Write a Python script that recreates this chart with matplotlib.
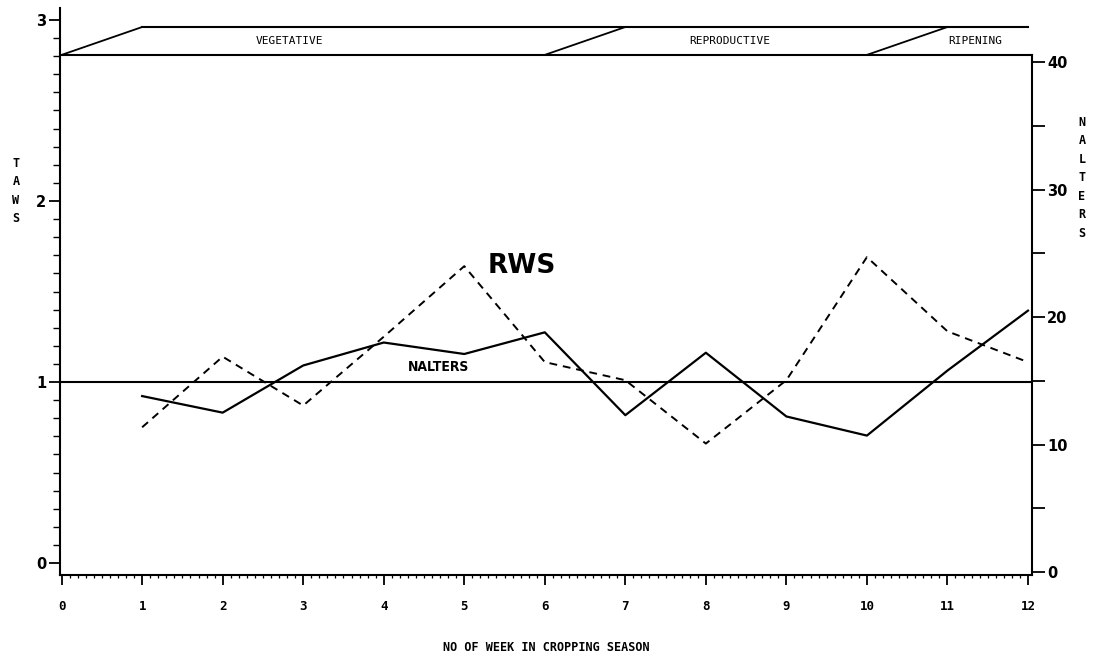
import matplotlib

matplotlib.use("Agg")

import matplotlib.pyplot as plt
from matplotlib.ticker import MultipleLocator


WEEKS = [1, 2, 3, 4, 5, 6, 7, 8, 9, 10, 11, 12]
RWS = [0.75, 1.14, 0.87, 1.25, 1.64, 1.11, 1.01, 0.66, 1.01, 1.69, 1.28, 1.11]
NALTERS = [13.8, 12.5, 16.2, 18.0, 17.1, 18.8, 12.3, 17.2, 12.2, 10.7, 15.8, 20.5]

X_TICKS = list(range(0, 13))
LEFT_TICKS = [0, 1, 2, 3]
RIGHT_TICKS = [0, 10, 20, 30, 40]

# growth stages: (start week, end week of the slanted edge, label, label x)
STAGES = [
    (0, 1, "VEGETATIVE", 2.83),
    (6, 7, "REPRODUCTIVE", 8.3),
    (10, 11, "RIPENING", 11.34),
]
BAND_LOW = 2.807
BAND_HIGH = 2.961

MONO = "DejaVu Sans Mono"

fig = plt.figure(figsize=(10.96, 6.63), dpi=100)
ax = fig.add_axes([60 / 1096, 88 / 663, 972 / 1096, 567 / 663])
ax2 = ax.twinx()

ax.set_xlim(-0.02, 12.05)
ax.set_ylim(-0.066, 3.066)
ax2.set_ylim(-0.235, 44.24)

# reference line at 1 and the two series
ax.axhline(1.0, color="black", lw=1.5, xmin=0, xmax=1)
ax.plot(WEEKS, RWS, color="black", lw=1.4, linestyle=(0, (4, 3)))
ax2.plot(WEEKS, NALTERS, color="black", lw=1.6)

# stage band at the top
ax.plot([0, 12.05], [BAND_LOW, BAND_LOW], color="black", lw=1.5, clip_on=False)
ax.plot([1, 12.0], [BAND_HIGH, BAND_HIGH], color="black", lw=1.5, clip_on=False)
for start, end, label, lx in STAGES:
    ax.plot([start, end], [BAND_LOW, BAND_HIGH], color="black", lw=1.3)
    ax.text(lx, (BAND_LOW + BAND_HIGH) / 2, label, family=MONO, fontsize=8,
            ha="center", va="center")

ax.text(5.71, 1.64, "RWS", fontsize=19, fontweight="bold", ha="center", va="center")
ax.text(4.68, 1.085, "NALTERS", fontsize=10, fontweight="bold", ha="center",
        va="center", fontstretch="condensed")

# axes styling
for side in ["top", "right"]:
    ax.spines[side].set_visible(False)
for side in ["top", "left", "bottom"]:
    ax2.spines[side].set_visible(False)
ax.spines["left"].set_linewidth(1.5)
ax.spines["bottom"].set_linewidth(1.5)
ax2.spines["right"].set_linewidth(1.5)
ax2.spines["right"].set_bounds(-0.235, 40.55)

ax.set_xticks(X_TICKS)
ax.xaxis.set_minor_locator(MultipleLocator(0.1))
ax.set_yticks(LEFT_TICKS)
ax.yaxis.set_minor_locator(MultipleLocator(0.1))
ax2.set_yticks(RIGHT_TICKS)
ax2.yaxis.set_minor_locator(MultipleLocator(5))

ax.tick_params(axis="x", which="major", direction="out", length=7, width=1.3,
               pad=11, labelsize=9)
ax.tick_params(axis="x", which="minor", direction="out", length=2.5, width=0.9)
ax.tick_params(axis="y", which="major", direction="out", length=8, width=1.3,
               pad=2, labelsize=10.5)
ax.tick_params(axis="y", which="minor", direction="out", length=5, width=1)
ax2.tick_params(axis="y", which="major", direction="out", length=9, width=1.3,
                pad=2, labelsize=10.5)
ax2.tick_params(axis="y", which="minor", direction="out", length=9, width=1.3)

for lab in ax.get_xticklabels():
    lab.set_family(MONO)
    lab.set_fontweight("bold")
for lab in ax.get_yticklabels() + ax2.get_yticklabels():
    lab.set_fontweight("bold")

ax.set_xlabel("NO OF WEEK IN CROPPING SEASON", family=MONO, fontsize=8.5,
              fontweight="bold", labelpad=20)

fig.text(16 / 1096, 1 - 191 / 663, "T\nA\nW\nS", family=MONO, fontsize=8.5,
         fontweight="bold", ha="center", va="center", linespacing=1.55)
fig.text(1082 / 1096, 1 - 178 / 663, "N\nA\nL\nT\nE\nR\nS", family=MONO,
         fontsize=8.5, fontweight="bold", ha="center", va="center", linespacing=1.55)

fig.savefig("out.png", dpi=100)
